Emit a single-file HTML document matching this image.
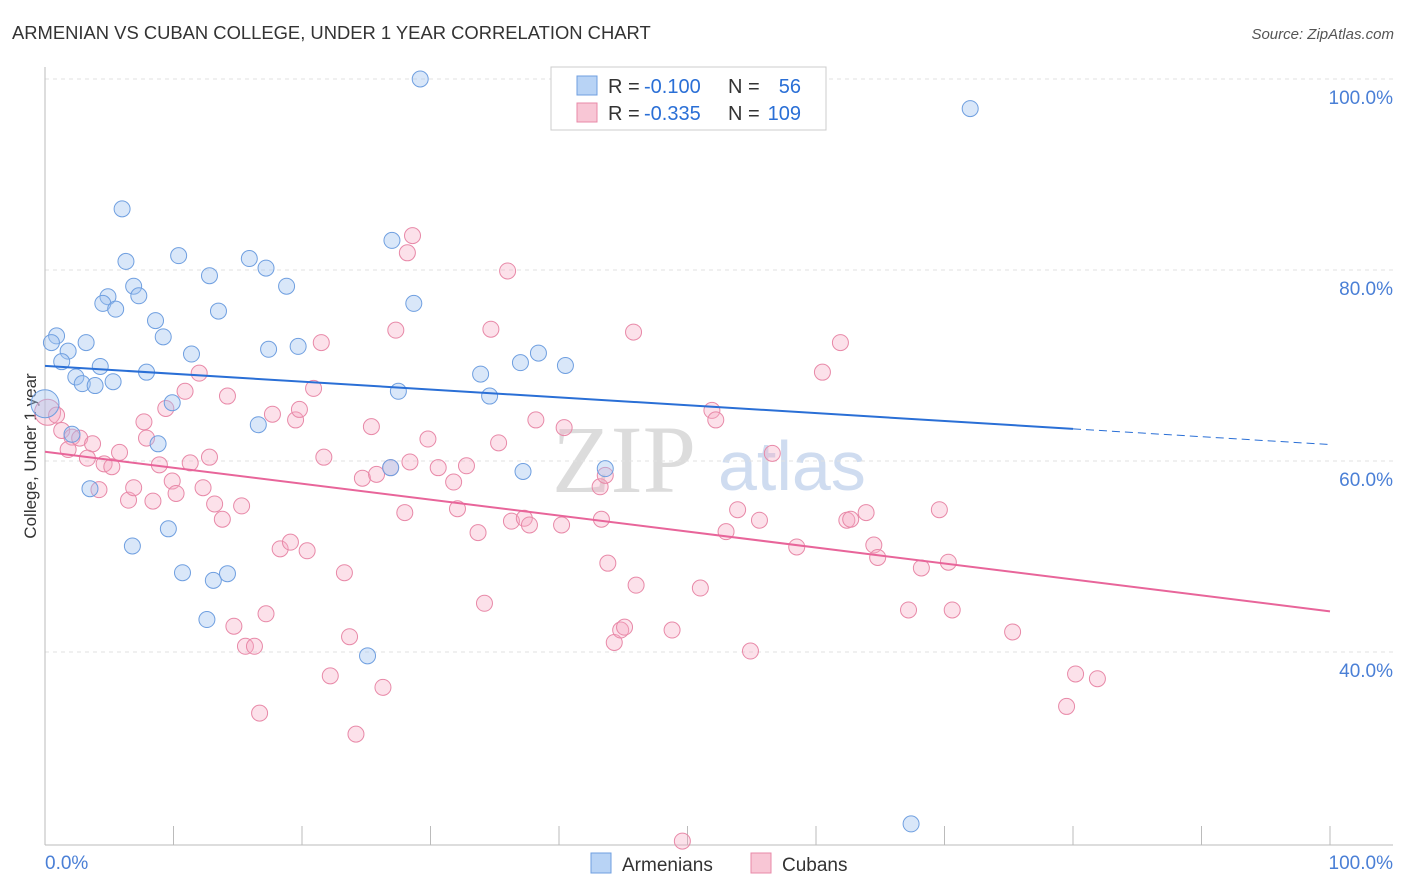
<!DOCTYPE html>
<html><head><meta charset="utf-8"><style>
html,body{margin:0;background:#fff;font-family:"Liberation Sans",sans-serif;overflow:hidden;width:1406px;height:892px}
svg{display:block}
</style></head><body>
<svg id="c" width="1406" height="892" xmlns="http://www.w3.org/2000/svg" style="font-family:'Liberation Sans',sans-serif">
<text x="12" y="39" font-size="18.4" fill="#333">ARMENIAN VS CUBAN COLLEGE, UNDER 1 YEAR CORRELATION CHART</text>
<text x="1394" y="39" font-size="15" fill="#555" font-style="italic" text-anchor="end">Source: ZipAtlas.com</text>
<text x="36" y="456" font-size="17" fill="#333" transform="rotate(-90 36 456)" text-anchor="middle">College, Under 1 year</text>
<g>
<text x="552" y="492" font-size="96" font-family="'Liberation Serif',serif" fill="#dcdcdc">ZIP</text>
<text x="718" y="490" font-size="70" fill="#cfdcf0">atlas</text>
</g>
<g id="grid"></g><g id="axes"></g><g id="pts"></g><g id="lines"></g>
<g>
<rect x="551" y="67" width="275" height="63" fill="#fff" stroke="#ccc"/>
<rect x="577" y="76" width="20" height="19" fill="#b8d3f5" stroke="#6f9fe0"/>
<rect x="577" y="103" width="20" height="19" fill="#f8c6d5" stroke="#e889a8"/>
<text x="608" y="93" font-size="20" fill="#333">R =</text>
<text x="644" y="93" font-size="20" fill="#2a6fd6">-0.100</text>
<text x="728" y="93" font-size="20" fill="#333">N =</text>
<text x="801" y="93" font-size="20" fill="#2a6fd6" text-anchor="end">56</text>
<text x="608" y="120" font-size="20" fill="#333">R =</text>
<text x="644" y="120" font-size="20" fill="#2a6fd6">-0.335</text>
<text x="728" y="120" font-size="20" fill="#333">N =</text>
<text x="801" y="120" font-size="20" fill="#2a6fd6" text-anchor="end">109</text>
</g>
<g>
<rect x="591" y="853" width="20" height="20" fill="#b8d3f5" stroke="#6f9fe0"/>
<text x="622" y="871" font-size="19" fill="#333">Armenians</text>
<rect x="751" y="853" width="20" height="20" fill="#f8c6d5" stroke="#e889a8"/>
<text x="782" y="871" font-size="19" fill="#333">Cubans</text>
</g>
</svg>
<script>
const yTicks=[100,80,60,40];
const yTickLabels=["100.0%","80.0%","60.0%","40.0%"];
const xTickLabels=["0.0%","100.0%"];
const armX=[29.2,72,6,10.4,6.3,15.9,17.2,12.8,27,18.8,4.9,6.9,4.5,7.3,5.5,28.7,13.5,8.6,0.9,9.2,3.2,0.5,1.8,1.3,11.4,17.4,19.7,4.3,7.9,38.4,37,40.5,33.9,2.4,2.9,3.9,5.3,27.5,34.6,0,9.9,16.6,2.1,8.8,26.9,37.2,43.6,3.5,9.6,6.8,10.7,13.1,14.2,12.6,25.1,67.4];
const armY=[100,96.9,86.4,81.5,80.9,81.2,80.2,79.4,83.1,78.3,77.2,78.3,76.5,77.3,75.9,76.5,75.7,74.7,73.1,73,72.4,72.4,71.5,70.4,71.2,71.7,72,69.9,69.3,71.3,70.3,70,69.1,68.8,68.1,67.9,68.3,67.3,66.8,66,66.1,63.8,62.8,61.8,59.3,58.9,59.2,57.1,52.9,51.1,48.3,47.5,48.2,43.4,39.6,22.0];
const cubX=[0.2,0.9,1.3,2.1,2.7,1.8,3.7,3.3,5.8,4.6,5.2,4.2,6.5,6.9,7.7,7.9,8.4,8.9,9.4,9.9,10.2,10.9,11.3,12,12.3,12.8,13.2,13.8,14.2,15.3,14.7,15.6,16.3,16.7,17.2,17.7,18.3,19.1,19.5,19.8,20.4,20.9,21.5,21.7,22.2,23.3,23.7,24.2,24.7,25.4,25.8,26.3,26.9,27.3,28,28.2,28.6,28.4,29.8,30.6,31.8,32.1,32.8,33.7,34.2,34.7,35.3,36,36.3,37.3,37.7,38.2,40.2,40.4,43.2,43.3,43.6,43.8,44.3,44.8,45.1,45.8,46,48.8,49.6,51,51.9,52.2,53,53.9,54.9,55.6,56.6,58.5,60.5,61.9,62.4,62.7,63.9,64.5,64.8,67.2,68.2,69.6,70.3,70.6,75.3,79.5,80.2,81.9];
const cubY=[65.1,64.8,63.2,62.5,62.4,61.2,61.8,60.3,60.9,59.7,59.4,57,55.9,57.2,64.1,62.4,55.8,59.6,65.5,57.9,56.6,67.3,59.8,69.2,57.2,60.4,55.5,53.9,66.8,55.3,42.7,40.6,40.6,33.6,44,64.9,50.8,51.5,64.3,65.4,50.6,67.6,72.4,60.4,37.5,48.3,41.6,31.4,58.2,63.6,58.6,36.3,59.3,73.7,54.6,81.8,83.6,59.9,62.3,59.3,57.8,55,59.5,52.5,45.1,73.8,61.9,79.9,53.7,54,53.3,64.3,53.3,63.5,57.3,53.9,58.5,49.3,41,42.3,42.6,73.5,47,42.3,20.2,46.7,65.3,64.3,52.6,54.9,40.1,53.8,60.8,51,69.3,72.4,53.8,53.9,54.6,51.2,49.9,44.4,48.8,54.9,49.4,44.4,42.1,34.3,37.7,37.2];
const svg=document.getElementById('c');const NS="http://www.w3.org/2000/svg";
const X=v=>45+v*12.85, Y=v=>79+(100-v)*9.55;
function mk(t,a,p){const e=document.createElementNS(NS,t);for(const k in a)e.setAttribute(k,a[k]);p.appendChild(e);return e;}
const grid=document.getElementById('grid'),axes=document.getElementById('axes'),pts=document.getElementById('pts'),lines=document.getElementById('lines');
yTicks.forEach((t,i)=>{
 const l=mk('line',{x1:45,x2:1393,y1:Y(t),y2:Y(t),stroke:'#e2e2e2','stroke-dasharray':'4,4'},grid);
 
 
 const tx=mk('text',{x:1393,y:Y(t)+25,'font-size':19,fill:'#4a7fd6','text-anchor':'end'},grid);tx.textContent=yTickLabels[i];
 
 
});
const ax=mk('line',{x1:45,x2:1393,y1:845,y2:845,stroke:'#bbb'},axes);


const ay=mk('line',{x1:45,x2:45,y1:67,y2:845,stroke:'#bbb'},axes);


for(let i=0;i<=10;i++){const t=mk('line',{x1:X(i*10),x2:X(i*10),y1:826,y2:845,stroke:'#bbb'},axes);
 
 }
[[0,'start',45],[1,'end',1393]].forEach(([i,a,x])=>{const t=mk('text',{x:x,y:869,'font-size':19,fill:'#4a7fd6','text-anchor':a},axes);t.textContent=xTickLabels[i];
 
 });
cubX.forEach((x,i)=>{const c=mk('circle',{cx:X(x),cy:Y(cubY[i]),r:i==0?13:8,fill:'rgba(245,170,195,0.35)',stroke:'#e889a8','stroke-width':1},pts);
 
 });
armX.forEach((x,i)=>{const c=mk('circle',{cx:X(x),cy:Y(armY[i]),r:i==39?14:8,fill:'rgba(160,195,240,0.4)',stroke:'#6f9fe0','stroke-width':1},pts);
 
 });
function fit(xs,ys){const n=xs.length;let mx=0,my=0;xs.forEach((x,i)=>{mx+=x;my+=ys[i]});mx/=n;my/=n;let sxy=0,sxx=0;xs.forEach((x,i)=>{sxy+=(x-mx)*(ys[i]-my);sxx+=(x-mx)**2});const b=sxy/sxx;return [my-b*mx,b];}
const [a1,b1]=fit(armX,armY),[a2,b2]=fit(cubX,cubY);
const l1=mk('line',{x1:X(0),y1:Y(a1),x2:X(80),y2:Y(a1+b1*80),stroke:'#2a6fd6','stroke-width':2},lines);


const l1d=mk('line',{x1:X(80),y1:Y(a1+b1*80),x2:X(100),y2:Y(a1+b1*100),stroke:'#2a6fd6','stroke-width':1,'stroke-dasharray':'8,5'},lines);


const l2=mk('line',{x1:X(0),y1:Y(a2),x2:X(100),y2:Y(a2+b2*100),stroke:'#e8659a','stroke-width':2},lines);


</script>
</body></html>
